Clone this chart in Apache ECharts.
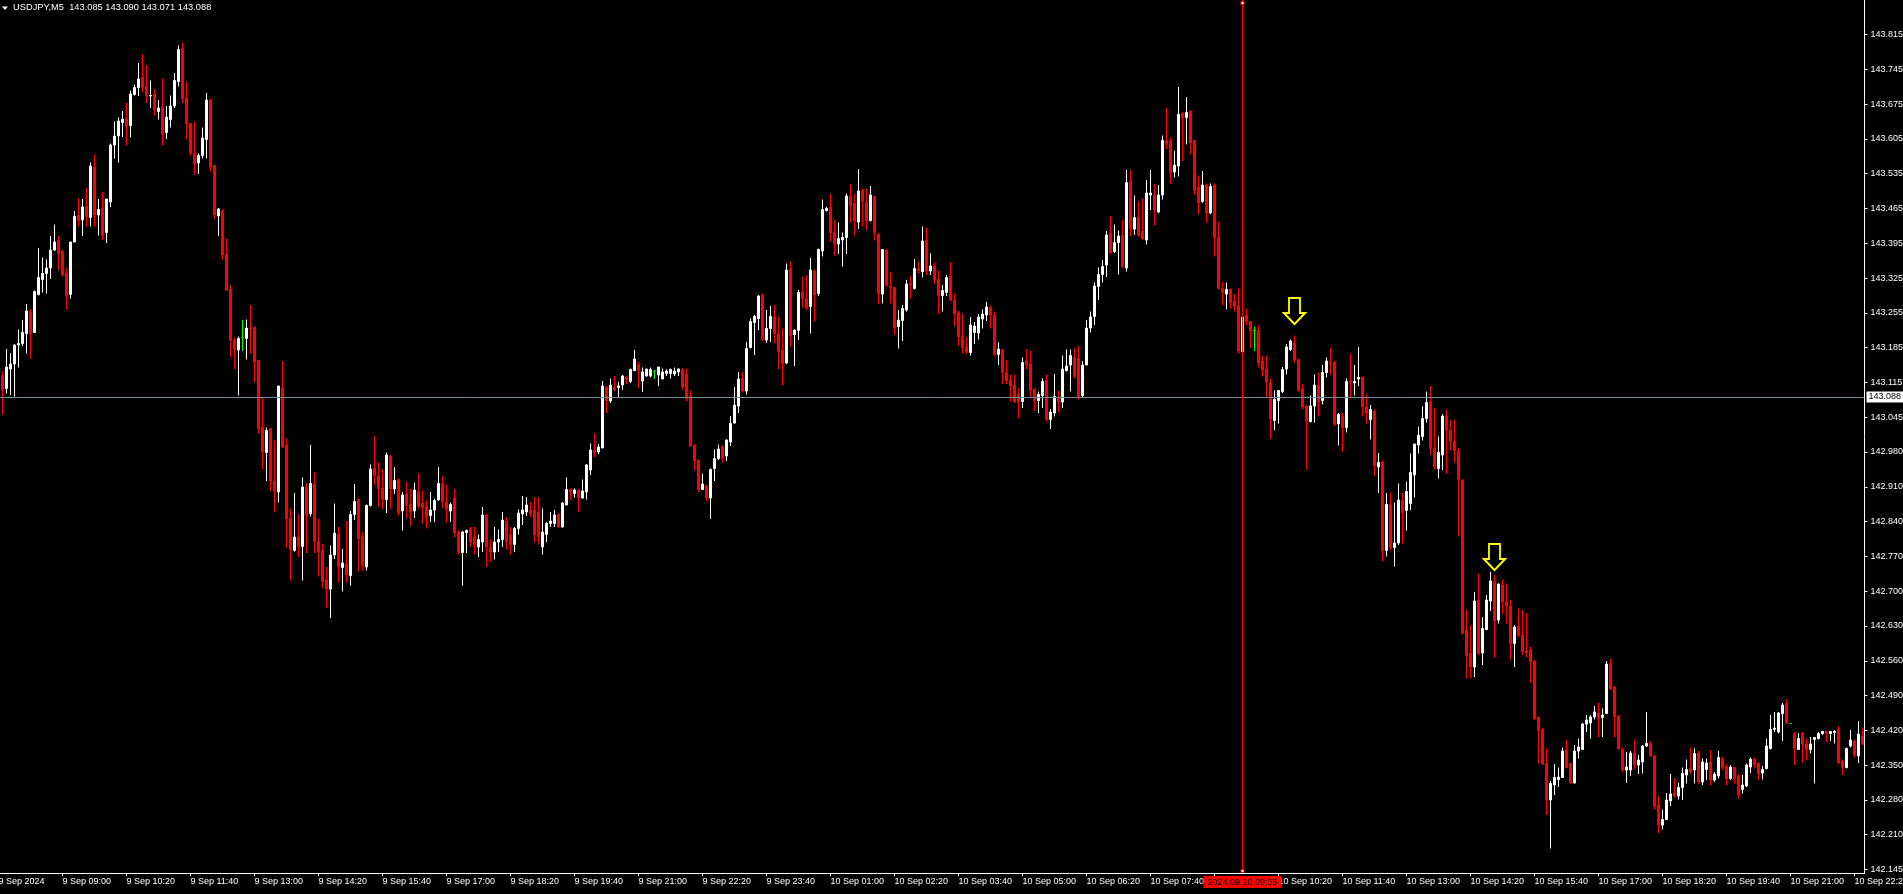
<!DOCTYPE html>
<html><head><meta charset="utf-8">
<script src="https://cdn.jsdelivr.net/npm/echarts@6/dist/echarts.min.js"></script>
<style>html,body{margin:0;padding:0;background:#000;overflow:hidden}#chart{width:1903px;height:894px}</style>
</head><body><div id="chart"></div>
<script>
// ---- header ----
const symbolTitle = 'USDJPY,M5';
const headerValues = ['143.085', '143.090', '143.071', '143.088'];

// ---- time categories (M5 bars) ----
const firstBarMinute = 7 * 60 + 40; // 9 Sep 07:40
const firstDay = 9;
const barCount = 467;
const firstAxisLabel = '9 Sep 2024';
const categories = [];
for (let i = 0; i < barCount; i++) {
  const m = firstBarMinute + i * 5;
  const d = firstDay + Math.floor(m / 1440);
  const mm = m % 1440;
  categories.push(d + ' Sep ' + String(Math.floor(mm / 60)).padStart(2, '0') + ':' + String(mm % 60).padStart(2, '0'));
}

// ---- OHLC values (index 0 = bar off the left edge) ----
const openPrices = [null,
143.133,143.107,143.146,143.156,143.194,143.197,143.217,143.261,143.219,143.295,
143.325,143.337,143.348,143.384,143.404,143.381,143.338,143.295,143.400,143.454,
143.444,143.472,143.449,143.550,143.454,143.468,143.419,143.480,143.594,143.612,
143.639,143.647,143.633,143.695,143.709,143.729,143.711,143.692,143.696,143.661,
143.670,143.619,143.645,143.672,143.721,143.787,143.688,143.637,143.578,143.558,
143.573,143.605,143.684,143.553,143.452,143.463,143.376,143.306,143.203,143.184,
143.209,143.207,143.228,143.230,143.163,143.029,142.979,143.027,142.922,142.900,
143.108,142.994,142.847,142.783,142.810,142.791,142.910,142.856,142.915,142.801,
142.784,142.724,142.706,142.774,142.815,142.749,142.756,142.733,142.855,142.885,
142.811,142.750,142.873,142.948,142.932,142.908,142.885,142.971,142.906,142.925,
142.862,142.896,142.875,142.862,142.901,142.877,142.871,142.853,142.864,142.884,
142.917,142.880,142.862,142.888,142.820,142.779,142.819,142.827,142.810,142.790,
142.800,142.854,142.790,142.780,142.800,142.805,142.842,142.815,142.795,142.827,
142.856,142.860,142.864,142.864,142.860,142.790,142.815,142.837,142.837,142.856,
142.830,142.874,142.905,142.897,142.904,142.888,142.900,142.944,142.984,142.980,
142.988,143.110,143.082,143.109,143.109,143.114,143.130,143.121,143.143,143.154,
143.122,143.132,143.132,143.142,143.134,143.126,143.137,143.137,143.136,143.140,
143.146,143.136,143.092,142.994,142.964,142.905,142.912,142.888,142.947,142.967,
142.990,142.972,143.000,143.038,143.072,143.127,143.102,143.189,143.239,143.247,
143.294,143.204,143.227,143.251,143.216,143.184,143.158,143.346,143.215,143.223,
143.300,143.287,143.271,143.342,143.297,143.382,143.463,143.470,143.419,143.396,
143.404,143.409,143.492,143.477,143.440,143.504,143.479,143.443,143.491,143.416,
143.296,143.384,143.312,143.309,143.231,143.243,143.264,143.317,143.307,143.347,
143.341,143.404,143.342,143.352,143.326,143.293,143.299,143.332,143.284,143.259,
143.213,143.190,143.179,143.219,143.218,143.246,143.254,143.269,143.254,143.175,
143.185,143.139,143.123,143.114,143.095,143.081,143.163,143.156,143.106,143.083,
143.093,143.123,143.045,143.058,143.089,143.080,143.143,143.154,143.169,143.167,
143.093,143.154,143.228,143.251,143.311,143.335,143.354,143.418,143.381,143.399,
143.414,143.348,143.521,143.426,143.449,143.422,143.404,143.494,143.494,143.460,
143.494,143.603,143.602,143.540,143.552,143.657,143.649,143.661,143.603,143.510,
143.481,143.514,143.458,143.514,143.409,143.307,143.296,143.305,143.282,143.273,
143.181,143.254,143.241,143.223,143.223,143.162,143.146,143.118,143.043,143.083,
143.101,143.146,143.185,143.198,143.164,143.106,143.072,143.041,143.072,143.114,
143.083,143.139,143.160,143.159,143.036,143.051,143.029,143.121,143.118,143.126,
143.129,143.070,143.045,143.062,142.950,142.960,142.783,142.875,142.789,142.798,
142.883,142.863,142.877,142.934,142.994,143.011,143.047,143.081,142.987,142.947,
142.974,143.052,143.024,143.001,142.983,142.924,142.624,142.577,142.550,142.684,
142.578,142.625,142.682,142.720,142.644,142.714,142.680,142.672,142.597,142.632,
142.614,142.582,142.584,142.562,142.450,142.425,142.357,142.284,142.314,142.325,
142.329,142.384,142.357,142.318,142.382,142.385,142.436,142.438,142.450,142.458,
142.449,142.457,142.557,142.510,142.452,142.385,142.344,142.344,142.377,142.354,
142.360,142.392,142.396,142.372,142.274,142.234,142.245,142.282,142.298,142.292,
142.309,142.334,142.347,142.344,142.378,142.320,142.345,142.360,142.324,142.332,
142.367,142.350,142.327,142.349,142.332,142.305,142.312,142.350,142.365,142.357,
142.338,142.347,142.387,142.425,142.420,142.457,142.477,142.437,142.417,142.385,
142.417,142.396,142.385,142.405,142.407,142.417,142.421,142.417,142.419,142.425,
142.362,142.349,142.392,142.402,142.372,142.412];

const highPrices = [null,
143.141,143.186,143.178,143.195,143.225,143.244,143.276,143.266,143.303,143.388,
143.369,143.365,143.412,143.435,143.412,143.384,143.349,143.400,143.462,143.488,
143.486,143.509,143.559,143.575,143.486,143.501,143.486,143.597,143.641,143.649,
143.662,143.678,143.703,143.715,143.758,143.776,143.754,143.723,143.706,143.684,
143.728,143.672,143.693,143.738,143.793,143.798,143.720,143.637,143.640,143.577,
143.629,143.698,143.686,143.553,143.468,143.466,143.407,143.314,143.209,143.211,
143.244,143.245,143.274,143.230,143.164,143.091,143.029,143.027,143.003,143.112,
143.162,143.007,142.867,142.898,142.855,142.929,142.918,142.994,142.939,142.846,
142.797,142.750,142.793,142.877,142.830,142.786,142.842,142.862,142.916,142.887,
142.820,142.875,142.955,143.012,142.959,142.946,142.979,142.974,142.950,142.927,
142.900,142.920,142.906,142.919,142.936,142.902,142.883,142.900,142.887,142.950,
142.932,142.915,142.879,142.906,142.823,142.822,142.825,142.830,142.830,142.815,
142.870,142.856,142.805,142.830,142.825,142.860,142.850,142.830,142.830,142.865,
142.892,142.890,142.880,142.890,142.889,142.867,142.840,142.860,142.864,142.857,
142.880,142.929,142.907,142.907,142.904,142.925,142.956,142.997,143.016,142.996,
143.122,143.110,143.127,143.132,143.120,143.134,143.132,143.147,143.184,143.160,
143.149,143.146,143.149,143.144,143.150,143.147,143.145,143.147,143.149,143.147,
143.147,143.147,143.104,142.995,142.964,142.937,142.914,142.947,142.985,142.995,
142.994,143.005,143.052,143.110,143.140,143.140,143.200,143.247,143.254,143.294,
143.297,143.264,143.272,143.274,143.251,143.227,143.357,143.362,143.225,143.304,
143.331,143.334,143.368,143.345,143.387,143.485,143.471,143.496,143.444,143.439,
143.419,143.497,143.516,143.496,143.546,143.507,143.507,143.512,143.492,143.417,
143.385,143.385,143.340,143.310,143.264,143.274,143.324,143.332,143.366,143.361,
143.431,143.429,143.377,143.359,143.343,143.314,143.334,143.360,143.297,143.262,
143.256,143.210,143.250,143.240,143.256,143.265,143.280,143.273,143.261,143.199,
143.185,143.164,143.135,143.135,143.108,143.169,143.186,143.182,143.106,143.101,
143.127,143.135,143.066,143.136,143.103,143.173,143.185,143.185,143.188,143.192,
143.162,143.244,143.261,143.319,143.349,143.364,143.422,143.452,143.435,143.423,
143.445,143.544,143.544,143.493,143.481,143.487,143.524,143.544,143.516,143.514,
143.613,143.669,143.609,143.582,143.710,143.659,143.690,143.664,143.603,143.533,
143.542,143.517,143.517,143.517,143.441,143.320,143.319,143.307,143.296,143.307,
143.251,143.267,143.242,143.231,143.233,143.173,143.173,143.127,143.103,143.104,
143.150,143.196,143.205,143.213,143.167,143.116,143.074,143.093,143.135,143.139,
143.154,143.169,143.188,143.162,143.058,143.058,143.127,143.177,143.154,143.190,
143.131,143.095,143.074,143.065,142.978,142.963,142.898,142.899,142.879,142.917,
142.899,142.921,142.977,142.996,143.031,143.071,143.101,143.112,143.069,143.011,
143.056,143.065,143.044,143.045,142.989,142.925,142.664,142.634,142.700,142.737,
142.650,142.694,142.740,142.734,142.717,142.725,142.717,142.685,142.634,142.667,
142.664,142.658,142.590,142.564,142.450,142.429,142.387,142.322,142.356,142.349,
142.389,142.405,142.358,142.394,142.407,142.438,142.454,142.454,142.472,142.478,
142.467,142.562,142.566,142.512,142.454,142.389,142.380,142.382,142.405,142.374,
142.394,142.460,142.402,142.374,142.292,142.265,142.298,142.336,142.327,142.318,
142.349,142.365,142.389,142.387,142.382,142.367,142.367,142.384,142.340,142.382,
142.370,142.356,142.354,142.350,142.336,142.334,142.357,142.369,142.369,142.360,
142.352,142.407,142.454,142.460,142.460,142.478,142.485,142.438,142.420,142.418,
142.420,142.407,142.410,142.410,142.420,142.422,142.422,142.422,142.424,142.432,
142.365,142.389,142.424,142.405,142.442,142.429];

const lowPrices = [null,
143.056,143.097,143.094,143.091,143.149,143.192,143.177,143.167,143.219,143.293,
143.299,143.297,143.326,143.382,143.343,143.331,143.265,143.287,143.400,143.431,
143.412,143.431,143.431,143.431,143.413,143.404,143.398,143.470,143.567,143.559,
143.610,143.593,143.609,143.693,143.692,143.700,143.678,143.668,143.653,143.645,
143.593,143.606,143.629,143.668,143.711,143.678,143.605,143.573,143.535,143.536,
143.567,143.567,143.541,143.446,143.412,143.365,143.303,143.170,143.146,143.093,
143.182,143.165,143.177,143.120,143.017,142.945,142.922,142.902,142.859,142.879,
142.988,142.789,142.723,142.781,142.770,142.723,142.778,142.851,142.778,142.731,
142.708,142.669,142.648,142.766,142.719,142.701,142.719,142.713,142.844,142.741,
142.743,142.743,142.871,142.914,142.871,142.866,142.858,142.866,142.896,142.853,
142.823,142.848,142.832,142.848,142.867,142.837,142.827,142.840,142.840,142.883,
142.867,142.839,142.840,142.810,142.775,142.713,142.778,142.790,142.775,142.770,
142.780,142.750,142.760,142.765,142.780,142.790,142.785,142.775,142.780,142.815,
142.834,142.852,142.850,142.800,142.795,142.775,142.800,142.830,142.830,142.829,
142.829,142.874,142.884,142.889,142.860,142.887,142.885,142.934,142.970,142.976,
142.988,143.058,143.078,143.102,143.090,143.104,143.116,143.118,143.143,143.108,
143.100,143.131,143.129,143.126,143.112,143.126,143.132,143.127,143.132,143.132,
143.104,143.082,142.990,142.944,142.900,142.904,142.882,142.846,142.922,142.964,
142.960,142.962,142.992,143.037,143.058,143.099,143.095,143.187,143.174,143.224,
143.202,143.198,143.200,143.198,143.146,143.114,143.156,143.190,143.152,143.204,
143.269,143.264,143.217,143.241,143.292,143.371,143.461,143.401,143.373,143.376,
143.351,143.376,143.439,143.413,143.426,143.431,143.424,143.441,143.403,143.276,
143.277,143.311,143.277,143.214,143.187,143.202,143.261,143.287,143.305,143.337,
143.329,143.334,143.334,143.316,143.256,143.261,143.292,143.282,143.231,143.192,
143.177,143.176,143.173,143.196,143.205,143.227,143.242,143.227,143.172,143.154,
143.116,143.116,143.081,143.078,143.047,143.068,143.146,143.089,143.062,143.058,
143.068,143.041,143.026,143.051,143.060,143.068,143.141,143.101,143.127,143.085,
143.089,143.154,143.219,143.234,143.284,143.319,143.330,143.376,143.378,143.335,
143.348,143.341,143.412,143.414,143.410,143.404,143.395,143.464,143.433,143.458,
143.485,143.586,143.516,143.529,143.531,143.562,143.595,143.575,143.494,143.456,
143.478,143.439,143.456,143.371,143.305,143.274,143.265,143.267,143.261,143.177,
143.177,143.234,143.188,143.182,143.149,143.131,143.088,143.006,143.024,143.037,
143.098,143.135,143.182,143.158,143.101,143.066,142.945,143.039,143.039,143.051,
143.075,143.129,143.135,143.032,142.993,142.981,143.019,143.089,143.093,143.112,
143.051,143.037,143.005,142.932,142.898,142.762,142.771,142.783,142.751,142.794,
142.797,142.823,142.864,142.889,142.977,143.003,143.039,142.974,142.945,142.927,
142.944,142.937,142.984,142.959,142.811,142.617,142.527,142.527,142.530,142.574,
142.554,142.624,142.662,142.569,142.637,142.656,142.637,142.565,142.550,142.610,
142.574,142.569,142.518,142.444,142.357,142.354,142.254,142.187,142.294,142.310,
142.329,142.347,142.317,142.317,142.367,142.384,142.420,142.407,142.445,142.410,
142.410,142.456,142.504,142.410,142.384,142.340,142.318,142.332,142.345,142.336,
142.337,142.390,142.370,142.265,142.218,142.225,142.244,142.272,142.289,142.285,
142.284,142.317,142.337,142.317,142.317,142.314,142.324,142.314,142.320,142.327,
142.344,142.314,142.324,142.317,142.287,142.297,142.310,142.338,142.347,142.324,
142.325,142.345,142.385,142.420,142.417,142.402,142.436,142.436,142.354,142.384,
142.358,142.364,142.377,142.317,142.405,142.414,142.400,142.402,142.397,142.356,
142.334,142.347,142.389,142.369,142.358,142.394];

const closePrices = [null,
143.104,143.150,143.156,143.194,143.197,143.219,143.262,143.217,143.301,143.329,
143.337,143.348,143.384,143.400,143.377,143.334,143.293,143.400,143.451,143.443,
143.470,143.451,143.552,143.454,143.465,143.413,143.486,143.594,143.612,143.642,
143.645,143.631,143.696,143.709,143.726,143.709,143.692,143.693,143.664,143.668,
143.615,143.650,143.672,143.723,143.785,143.687,143.637,143.578,143.556,143.573,
143.608,143.684,143.550,143.454,143.466,143.374,143.303,143.203,143.186,143.207,
143.209,143.228,143.226,143.160,143.027,142.980,143.023,142.922,142.902,143.112,
142.990,142.847,142.784,142.810,142.792,142.910,142.853,142.917,142.801,142.781,
142.721,142.706,142.774,142.818,142.752,142.758,142.735,142.855,142.881,142.807,
142.753,142.873,142.946,142.933,142.906,142.885,142.974,142.906,142.923,142.858,
142.894,142.873,142.861,142.904,142.871,142.869,142.851,142.864,142.883,142.917,
142.880,142.866,142.875,142.818,142.780,142.820,142.823,142.800,142.795,142.805,
142.854,142.790,142.780,142.800,142.805,142.844,142.800,142.795,142.827,142.858,
142.864,142.874,142.857,142.815,142.810,142.820,142.837,142.842,142.854,142.830,
142.878,142.905,142.900,142.904,142.889,142.902,142.954,142.984,142.978,142.990,
143.112,143.082,143.114,143.104,143.112,143.132,143.126,143.145,143.166,143.144,
143.140,143.146,143.145,143.142,143.150,143.140,143.142,143.145,143.142,143.146,
143.110,143.087,142.992,142.962,142.905,142.916,142.888,142.945,142.967,142.986,
142.967,143.004,143.037,143.074,143.126,143.102,143.187,143.241,143.251,143.292,
143.205,143.227,143.251,143.217,143.180,143.157,143.344,143.212,143.224,143.299,
143.287,143.269,143.344,143.294,143.385,143.465,143.467,143.419,143.396,143.407,
143.409,143.492,143.473,143.442,143.502,143.481,143.443,143.494,143.419,143.297,
143.385,143.314,143.309,143.229,143.244,143.267,143.316,143.314,143.347,143.343,
143.402,143.342,143.352,143.325,143.293,143.303,143.329,143.284,143.257,143.211,
143.188,143.180,143.234,143.232,143.250,143.256,143.270,143.254,143.175,143.186,
143.139,143.123,143.112,143.081,143.081,143.159,143.154,143.104,143.083,143.095,
143.121,143.045,143.060,143.091,143.081,143.146,143.152,143.173,143.131,143.089,
143.154,143.228,143.250,143.312,143.335,143.351,143.414,143.378,143.399,143.412,
143.351,143.519,143.427,143.449,143.414,143.407,143.498,143.498,143.464,143.494,
143.603,143.595,143.539,143.554,143.655,143.649,143.659,143.598,143.502,143.479,
143.514,143.458,143.511,143.409,143.307,143.299,143.305,143.279,143.271,143.182,
143.250,143.241,143.223,143.223,143.158,143.144,143.120,143.047,143.085,143.103,
143.145,143.190,143.202,143.164,143.103,143.070,143.042,143.072,143.114,143.080,
143.139,143.162,143.158,143.036,143.055,143.029,143.121,143.119,143.121,143.129,
143.070,143.058,143.065,142.953,142.959,142.783,142.875,142.789,142.798,142.884,
142.859,142.901,142.939,142.996,143.014,143.047,143.079,142.987,142.951,142.979,
143.052,143.024,143.001,142.983,142.925,142.617,142.572,142.550,142.682,142.577,
142.627,142.684,142.722,142.642,142.716,142.680,142.672,142.597,142.630,142.614,
142.580,142.578,142.560,142.447,142.422,142.356,142.284,142.317,142.329,142.330,
142.382,142.349,142.318,142.382,142.390,142.436,142.444,142.450,142.460,142.447,
142.454,142.556,142.507,142.450,142.387,142.344,142.350,142.378,142.354,142.364,
142.392,142.397,142.372,142.272,142.234,142.245,142.284,142.296,142.292,142.309,
142.337,142.345,142.340,142.377,142.320,142.360,142.358,142.324,142.336,142.369,
142.349,142.327,142.350,142.327,142.294,142.314,142.354,142.365,142.356,142.337,
142.345,142.392,142.425,142.428,142.458,142.474,142.438,142.437,142.387,142.407,
142.396,142.385,142.396,142.409,142.417,142.421,142.417,142.421,142.421,142.358,
142.349,142.387,142.404,142.374,142.416,142.396];

// ---- price axis ----
const priceAxisMin = 142.138;
const priceAxisMax = 143.884;
const priceTickLabels = ['143.815','143.745','143.675','143.605','143.535','143.465','143.395','143.325',
  '143.255','143.185','143.115','143.045','142.980','142.910','142.840','142.770','142.700','142.630',
  '142.560','142.490','142.420','142.350','142.280','142.210','142.145'];

// ---- objects ----
const bidPrice = 143.088;
const bidLabel = '143.088';
const cursorBarIndex = 311;
const cursorLabel = '2024.09.10 09:35';
const arrowBarIndices = [324, 374];
const arrowTipPrices = [143.236, 142.744];

// ---- build ----
const FONT = 'Liberation Sans';
const nTicks = priceTickLabels.length;
const tFirst = parseFloat(priceTickLabels[0]);
const tLast = parseFloat(priceTickLabels[nTicks - 1]);
const tickValues = priceTickLabels.map((s, k) => tFirst - k * (tFirst - tLast) / (nTicks - 1));

const candleData = categories.map((c, i) => {
  if (openPrices[i] == null) return ['-', '-', '-', '-'];
  return [openPrices[i], closePrices[i], lowPrices[i], highPrices[i]];
});

const chart = echarts.init(document.getElementById('chart'), null, { renderer: 'canvas' });
chart.setOption({
  backgroundColor: '#000000',
  animation: false,
  title: {
    text: symbolTitle + '  ' + headerValues.join(' '),
    left: 13, top: 3, padding: 0,
    textStyle: { color: '#ffffff', fontSize: 9.3, fontWeight: 'normal', fontFamily: FONT }
  },
  graphic: [{
    type: 'polygon', shape: { points: [[2, 6.5], [8, 6.5], [5, 10]] },
    style: { fill: '#ffffff' }, silent: true
  }],
  grid: { left: -3.5, right: 38.5, top: 0, bottom: 21, containLabel: false, outerBoundsMode: 'none' },
  xAxis: {
    type: 'category', data: categories, boundaryGap: true,
    axisLine: { show: true, lineStyle: { color: '#ffffff', width: 1 } },
    axisTick: { show: true, alignWithLabel: true, interval: 15, length: 3, lineStyle: { color: '#ffffff' } },
    axisLabel: {
      interval: 15, align: 'left', margin: 4, color: '#ffffff', fontSize: 9, fontFamily: FONT,
      hideOverlap: false,
      formatter: (v, idx) => (idx === 0 ? firstAxisLabel : v)
    },
    splitLine: { show: false }
  },
  yAxis: {
    type: 'value', position: 'right', min: priceAxisMin, max: priceAxisMax, scale: true,
    axisLine: { show: true, lineStyle: { color: '#ffffff', width: 1 } },
    axisTick: { show: true, length: 3, lineStyle: { color: '#ffffff' }, customValues: tickValues },
    axisLabel: {
      customValues: tickValues, margin: 6, color: '#ffffff', fontSize: 9, fontFamily: FONT,
      formatter: (v) => {
        let best = 0, bd = Infinity;
        tickValues.forEach((t, k) => { const d = Math.abs(t - v); if (d < bd) { bd = d; best = k; } });
        return priceTickLabels[best];
      }
    },
    splitLine: { show: false }
  },
  series: [{
    type: 'candlestick',
    data: candleData,
    barWidth: 2,
    itemStyle: {
      color: '#ffffff', color0: '#ff0000',
      borderColor: '#ffffff', borderColor0: '#ff0000', borderColorDoji: '#00ff00',
      borderWidth: 1
    },
    emphasis: { disabled: true },
    markLine: {
      silent: true, symbol: 'none', animation: false,
      data: [
        {
          yAxis: bidPrice,
          lineStyle: { color: '#778899', width: 1, type: 'solid' },
          label: {
            show: true, position: 'end', distance: 2, formatter: bidLabel,
            color: '#000000', backgroundColor: '#ffffff', padding: [1, 3, 1, 2],
            fontSize: 9, fontFamily: FONT
          }
        },
        {
          xAxis: categories[cursorBarIndex],
          lineStyle: { color: '#ff0000', width: 1, type: 'solid' },
          label: {
            show: true, position: 'start', distance: 3, formatter: cursorLabel,
            color: '#000000', backgroundColor: '#ff0000', padding: [2, 4, 1, 4],
            fontSize: 9, fontFamily: FONT
          }
        }
      ]
    },
    markPoint: {
      silent: true, animation: false, label: { show: false },
      data: arrowBarIndices.map((idx, k) => ({
        coord: [categories[idx], arrowTipPrices[k]],
        symbol: 'path://M5,0L16,0L16,15L21,15L10.5,26L0,15L5,15Z',
        symbolSize: [21, 26], symbolOffset: [0, -13],
        itemStyle: { color: '#000000', borderColor: '#ffff00', borderWidth: 2 }
      })).concat([
        {
          coord: [categories[cursorBarIndex], priceAxisMax], symbol: 'rect', symbolSize: 3, symbolOffset: [0, 3],
          itemStyle: { color: '#ffffff', borderColor: '#ff0000', borderWidth: 1 }
        },
        {
          coord: [categories[cursorBarIndex], priceAxisMin], symbol: 'rect', symbolSize: 3, symbolOffset: [0, -2],
          itemStyle: { color: '#ffffff', borderColor: '#ff0000', borderWidth: 1 }
        }
      ])
    }
  }]
});
</script>
</body></html>
